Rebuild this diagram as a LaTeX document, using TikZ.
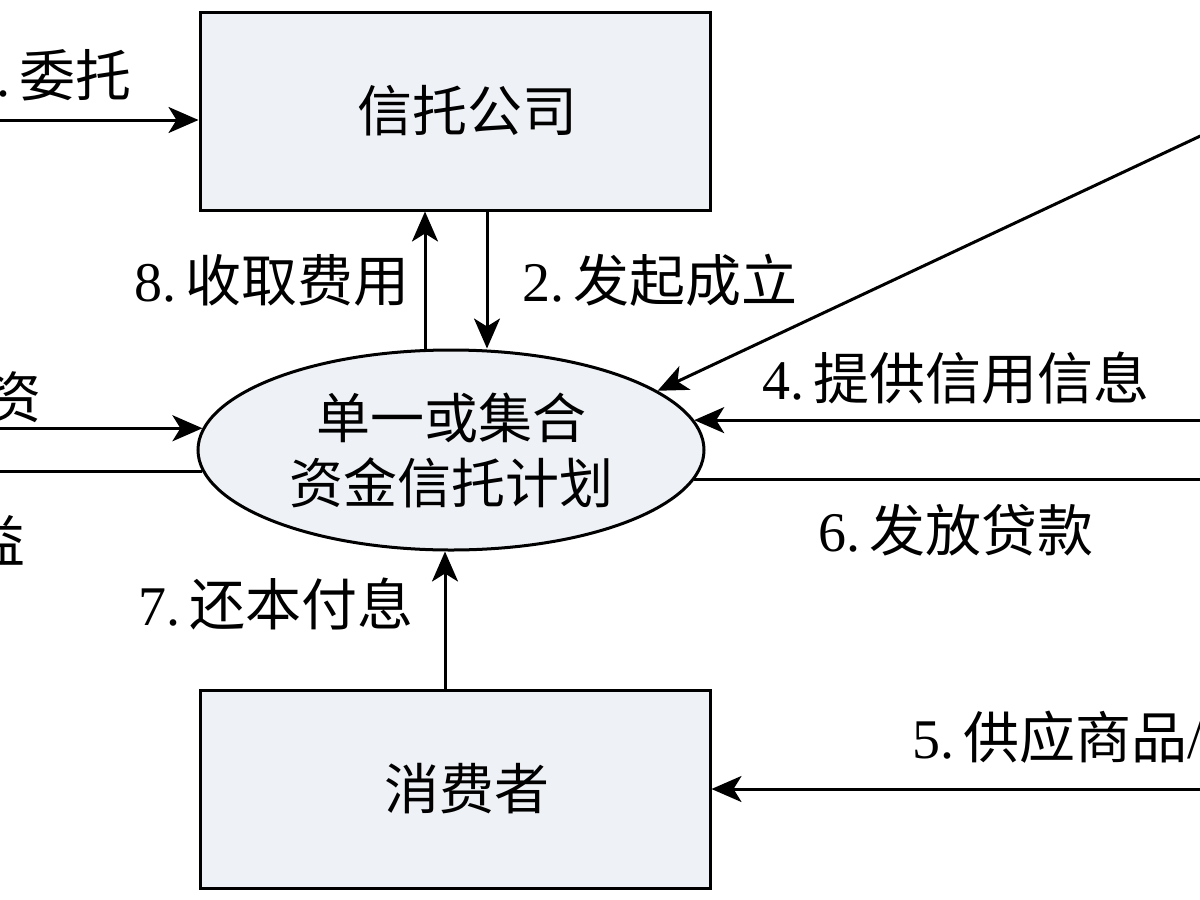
\documentclass[tikz,border=0pt]{standalone}
\usepackage{fontspec}
\setmainfont{Liberation Serif}
\newfontfamily\cjk{Noto Sans CJK SC}
\usetikzlibrary{arrows.meta,shapes.geometric}
\definecolor{boxfill}{HTML}{EEF1F5}
\tikzset{
  party/.style={draw, line width=1.5pt, fill=boxfill, minimum width=255pt, minimum height=99pt, inner sep=0pt, font=\fontsize{27.5}{32}\selectfont\cjk},
  plan/.style={ellipse, draw, line width=1.5pt, fill=boxfill, minimum width=253pt, minimum height=100pt, inner sep=0pt, align=center, font=\fontsize{27}{32.5}\selectfont\cjk},
  flow/.style={line width=1.5pt, -{Stealth[length=15pt,width=13pt,inset=4pt]}},
  plain/.style={line width=1.5pt},
  lbl/.style={font=\fontsize{28}{32}\selectfont, inner sep=0pt}
}
\begin{document}
\begin{tikzpicture}[x=0.5pt,y=-0.5pt]
\useasboundingbox (0,0) rectangle (1200,900);
\clip (0,0) rectangle (1200,900);

\node[party] (trust) at (455,111) {\hspace{12pt}信托公司};
\node[plan] (plan) at (451,450) {单一或集合\\资金信托计划};
\node[party] (consumer) at (455,789) {\hspace{12pt}消费者};

\coordinate (lft) at (-20,0);
\coordinate (rgt) at (1220,0);
\coordinate (in1) at (-20,120);
\coordinate (far) at (1260,108);

% trust company
\draw[flow] (in1) -- (in1 -| trust.west);
\draw[flow] ([xshift=-13pt]plan.north) -- ([xshift=-13pt]plan.north |- trust.south);
\draw[flow] ([xshift=16pt]trust.south) -- ([xshift=16pt]trust.south |- plan.north);

% left side of the plan
\draw[flow] (lft |- plan.175) -- (plan.175);
\draw[plain] (plan.185) -- (lft |- plan.185);

% right side of the plan
\draw[flow] (far) -- (plan.16);
\draw[flow] (rgt |- plan.7) -- (plan.7);
\draw[plain] (plan.353) -- (rgt |- plan.353);

% consumer
\draw[flow] ([xshift=-5pt]consumer.north) -- ([xshift=-5pt]consumer.north |- plan.south);
\draw[flow] (rgt |- consumer.east) -- (consumer.east);

\node[lbl, anchor=east] (l1) at (132,75) {1.\,{\cjk 委托}};
\node[lbl] (l3) at (13,397) {\cjk 资};
\node[lbl] (l9) at (-3,540) {\cjk 益};
\node[lbl, anchor=east] (l8) at (410,280) {8.\,{\cjk 收取费用}};
\node[lbl, anchor=west] (l2) at (522,280) {2.\,{\cjk 发起成立}};
\node[lbl, anchor=west] (l4) at (762,378) {4.\,{\cjk 提供信用信息}};
\node[lbl, anchor=west] (l6) at (818,530) {6.\,{\cjk 发放贷款}};
\node[lbl, anchor=east] (l7) at (414,604) {7.\,{\cjk 还本付息}};
\node[lbl, anchor=west] (l5) at (912,737) {5.\,{\cjk 供应商品}/};
\end{tikzpicture}
\end{document}
